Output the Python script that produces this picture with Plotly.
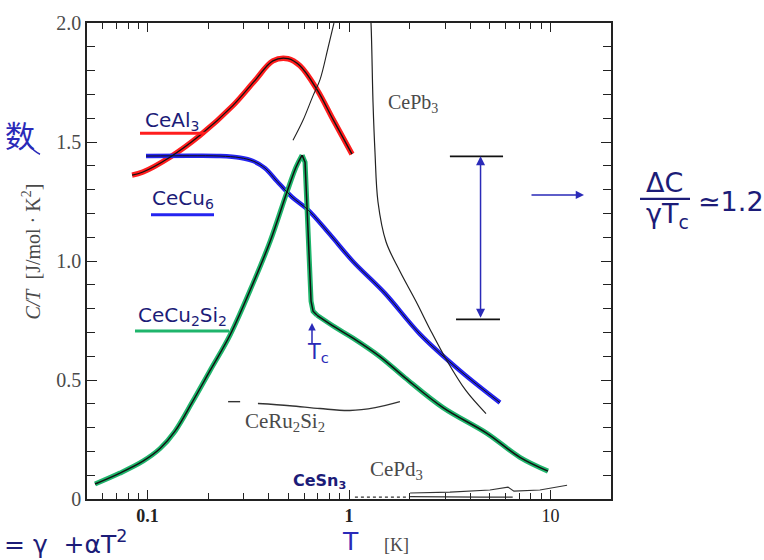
import math
import plotly.graph_objects as go

# ---- specific heat C/T versus T for heavy-fermion compounds ----
ceal3_T = [0.0837, 0.0948, 0.129, 0.182, 0.265, 0.341, 0.419, 0.498, 0.571, 0.694, 0.833, 1.035]
ceal3_CT = [1.361, 1.374, 1.436, 1.528, 1.653, 1.758, 1.841, 1.850, 1.820, 1.720, 1.595, 1.449]

cecu6_T = [0.0982, 0.162, 0.229, 0.288, 0.334, 0.383, 0.439, 0.521, 0.626, 0.805, 1.047, 1.51, 2.25, 3.56, 5.62]
cecu6_CT = [1.441, 1.442, 1.441, 1.434, 1.420, 1.390, 1.335, 1.269, 1.215, 1.111, 0.998, 0.864, 0.693, 0.539, 0.405]

cecu2si2_T = [0.0548, 0.0729, 0.0948, 0.1153, 0.1368, 0.1661, 0.204, 0.2566, 0.3334, 0.4053, 0.492,
              0.546, 0.585, 0.605, 0.618, 0.633, 0.648, 0.663, 0.694, 0.852, 1.047, 1.43, 1.90, 2.93,
              4.84, 7.06, 9.73]
cecu2si2_CT = [0.063, 0.109, 0.159, 0.212, 0.285, 0.405, 0.539, 0.689, 0.905, 1.081, 1.290,
               1.395, 1.445, 1.415, 1.236, 1.027, 0.831, 0.789, 0.772, 0.722, 0.676, 0.597, 0.509, 0.384,
               0.276, 0.175, 0.117]
PEAK, KINK = 12, 18  # indices of the maximum and of the end of the drop at Tc

cepb3_T = [1.27, 1.286, 1.316, 1.346, 1.393, 1.527, 1.792, 2.15, 2.55, 3.07, 3.81, 4.79]
cepb3_CT = [2.06, 2.0, 1.666, 1.457, 1.248, 1.081, 0.956, 0.831, 0.706, 0.580, 0.455, 0.359]

cepb3_low_T = [0.842, 0.787, 0.718, 0.663, 0.591, 0.527]
cepb3_low_CT = [2.0, 1.896, 1.762, 1.695, 1.591, 1.507]

ceru2si2_T = [0.353, 0.509, 0.718, 1.01, 1.35, 1.79]
ceru2si2_CT = [0.401, 0.392, 0.380, 0.372, 0.384, 0.409]
ceru2si2_dash_T = [0.251, 0.288]
ceru2si2_dash_CT = [0.409, 0.409]

cesn3_T = [1.07, 1.3, 1.6, 2.01]
cesn3_CT = [0.008, 0.008, 0.008, 0.008]
cesn3_hi_T = [2.01, 3.0, 4.5, 6.5]
cesn3_hi_CT = [0.010, 0.008, 0.008, 0.008]

cepd3_T = [2.01, 3.17, 5.01, 6.16, 6.59, 8.87, 12.1]
cepd3_CT = [0.025, 0.029, 0.038, 0.050, 0.033, 0.038, 0.058]

# jump of C/T at the superconducting transition of CeCu2Si2
dc_top_T = [3.17, 5.82]
dc_bottom_T = [3.40, 5.62]
dc_top = 1.44
dc_bottom = 0.755
dc_arrow_T = 4.5

x_major = [0.1, 1, 10]
x_major_text = ['<b>0.1</b>', '<b>1</b>', '10']
x_minor = [0.06, 0.07, 0.08, 0.09, 0.2, 0.3, 0.4, 0.5, 0.6, 0.7, 0.8, 0.9,
           2, 3, 4, 5, 6, 7, 8, 9, 20]
y_major = [0, 0.5, 1.0, 1.5, 2.0]
y_major_text = ['0', '0.5', '1.0', '1.5', '2.0']

RED = '#ff1d1d'
BLUE = '#2424f0'
GREEN = '#1fb56c'
INK = '#1c1c78'
HAND = '#2a2ab8'
GRAY = '#4a4a4a'
SERIF = 'Liberation Serif, DejaVu Serif, serif'
SANS = 'DejaVu Sans, Liberation Sans, sans-serif'

# plot-area geometry in pixels (for placing text outside the axes)
W_FIG, H_FIG = 764, 560
L, R, T_, B = 87, 611, 20, 499


def px(x):
    return (x - L) / (R - L)


def py(y):
    return (B - y) / (B - T_)


fig = go.Figure()


def curve(x, y, color, width, shape='linear', dash='solid'):
    fig.add_trace(go.Scatter(x=x, y=y, mode='lines', hoverinfo='skip', showlegend=False,
                             line=dict(color=color, width=width, shape=shape, dash=dash)))


def cecu2si2(color, width):
    # smooth rise, abrupt drop at Tc, smooth normal-state tail
    curve(cecu2si2_T[:PEAK + 1], cecu2si2_CT[:PEAK + 1], color, width, 'spline')
    curve(cecu2si2_T[PEAK:KINK + 1], cecu2si2_CT[PEAK:KINK + 1], color, width)
    curve(cecu2si2_T[KINK:], cecu2si2_CT[KINK:], color, width, 'spline')


# coloured highlights underneath, printed black curves on top
curve(ceal3_T, ceal3_CT, RED, 5.5, 'spline')
curve(cecu6_T, cecu6_CT, BLUE, 4.5, 'spline')
cecu2si2(GREEN, 5)
curve(ceal3_T, ceal3_CT, '#111', 1.3, 'spline')
curve(cecu6_T, cecu6_CT, '#111', 1.0, 'spline')
cecu2si2('#111', 1.5)

curve(cepb3_T, cepb3_CT, '#222', 1.2, 'spline')
curve(cepb3_low_T, cepb3_low_CT, '#222', 1.1, 'spline')
curve(ceru2si2_T, ceru2si2_CT, '#333', 1.4, 'spline')
curve(ceru2si2_dash_T, ceru2si2_dash_CT, '#333', 1.4)
curve(cesn3_T, cesn3_CT, '#333', 1.3, dash='dot')
curve(cesn3_hi_T, cesn3_hi_CT, '#333', 1.3)
curve(cepd3_T, cepd3_CT, '#333', 1.1)

# bracket marking the specific-heat jump
curve(dc_top_T, [dc_top, dc_top], '#111', 1.8)
curve(dc_bottom_T, [dc_bottom, dc_bottom], '#111', 1.8)

ann = []


def text(x, y, s, size, color, family, **kw):
    ann.append(dict(x=px(x), y=py(y), xref='paper', yref='paper', text=s, showarrow=False,
                    font=dict(size=size, color=color, family=family),
                    xanchor=kw.pop('xanchor', 'center'), yanchor=kw.pop('yanchor', 'middle'), **kw))


# double arrow between the two bracket lines
ann.append(dict(x=math.log10(dc_arrow_T), y=dc_top, xref='x', yref='y',
                ax=math.log10(dc_arrow_T), ay=dc_bottom, axref='x', ayref='y',
                text='', showarrow=True, arrowside='end+start', arrowhead=2, arrowsize=1.2,
                arrowwidth=1.5, arrowcolor=HAND))
# arrow pointing to the ratio
ann.append(dict(x=px(584), y=py(193), xref='paper', yref='paper', ax=-54, ay=0,
                text='', showarrow=True, arrowhead=2, arrowsize=1.1, arrowwidth=1.5, arrowcolor=HAND))
# Tc marker
ann.append(dict(x=px(312), y=py(322), xref='paper', yref='paper', ax=0, ay=22,
                text='', showarrow=True, arrowhead=2, arrowsize=1.0, arrowwidth=1.5, arrowcolor=HAND))
text(318, 352, 'T<sub>c</sub>', 21, HAND, SANS)

# compound labels
text(172, 119, 'CeAl<sub>3</sub>', 20, INK, SANS)
text(183, 197, 'CeCu<sub>6</sub>', 20, INK, SANS)
text(182, 315, 'CeCu<sub>2</sub>Si<sub>2</sub>', 20, INK, SANS)
text(319, 481, '<b>CeSn<sub>3</sub></b>', 16, INK, SANS)
text(413, 101, 'CePb<sub>3</sub>', 20, GRAY, SERIF)
text(285, 422, 'CeRu<sub>2</sub>Si<sub>2</sub>', 21, GRAY, SERIF)
text(396, 470, 'CePd<sub>3</sub>', 21, GRAY, SERIF)

# ratio of the jump
text(664, 181, 'ΔC', 27, INK, SANS)
text(667, 214, 'γT<sub>c</sub>', 27, INK, SANS)
text(731, 200, '≃1.2', 27, INK, SANS)

# axis titles
text(31, 250, '<i>C/T</i>  [J/mol · K<sup>2</sup>]', 20, GRAY, SERIF, textangle=-90)
text(350, 542, 'T', 25, HAND, SANS, borderpad=0)
text(396, 545, '[K]', 18, GRAY, SERIF)

# margin notes
text(20, 132, '数', 30, HAND, 'Noto Sans CJK SC')
text(2, 543, '= γ  +αT<sup>2</sup>', 25, INK, SANS, xanchor='left')

shapes = [
    dict(type='line', xref='paper', yref='paper', x0=px(140), x1=px(205), y0=py(131), y1=py(131),
         line=dict(color=RED, width=3)),
    dict(type='line', xref='paper', yref='paper', x0=px(151), x1=px(214), y0=py(213), y1=py(213),
         line=dict(color=BLUE, width=3)),
    dict(type='line', xref='paper', yref='paper', x0=px(135), x1=px(229), y0=py(330), y1=py(330),
         line=dict(color=GREEN, width=3)),
    dict(type='line', xref='paper', yref='paper', x0=px(640), x1=px(690), y0=py(197), y1=py(197),
         line=dict(color=INK, width=2.4)),
    dict(type='path', xref='paper', yref='paper',
         path=f'M {px(28)} {py(142)} Q {px(35)} {py(150)} {px(40)} {py(152)}',
         line=dict(color=HAND, width=1.6)),
]

fig.update_layout(
    width=W_FIG, height=H_FIG,
    margin=dict(l=L, r=W_FIG - R, t=T_, b=H_FIG - B),
    paper_bgcolor='white', plot_bgcolor='white',
    annotations=ann, shapes=shapes, showlegend=False,
    xaxis=dict(type='log', range=[math.log10(0.05), math.log10(20)],
               showgrid=False, zeroline=False, showline=True, linecolor='#222', linewidth=1.5,
               mirror='ticks', ticks='inside', ticklen=9, tickcolor='#222', tickwidth=1.3,
               tickvals=x_major, ticktext=x_major_text,
               tickfont=dict(family=SERIF, size=18, color='#222'),
               minor=dict(tickvals=x_minor, ticks='inside', ticklen=6, tickcolor='#222', tickwidth=1.1)),
    yaxis=dict(range=[0, 2], showgrid=False, zeroline=False, showline=True, linecolor='#222',
               linewidth=1.5, mirror='ticks', ticks='inside', ticklen=10, tickcolor='#222', tickwidth=1.3,
               tickvals=y_major, ticktext=y_major_text,
               tickfont=dict(family=SERIF, size=20, color=GRAY),
               minor=dict(dtick=0.1, ticks='inside', ticklen=8, tickcolor='#222', tickwidth=1.1)),
)

fig.write_html('out.html')
